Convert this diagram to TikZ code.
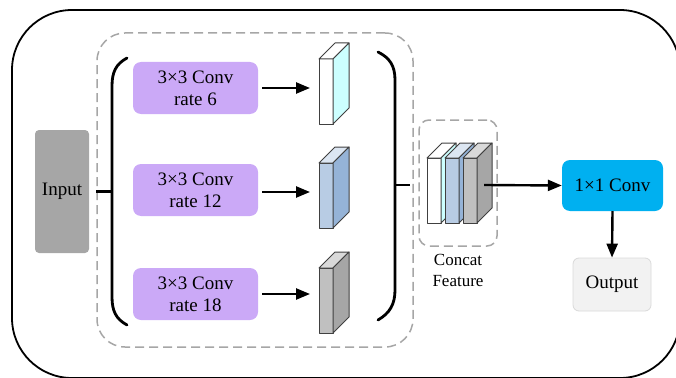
\documentclass[tikz,border=0pt]{standalone}
\usepackage{fontspec}
\setmainfont{Liberation Serif}
\newfontfamily\tnr{Liberation Serif}
\usetikzlibrary{arrows.meta}
\definecolor{convpurple}{HTML}{CBA9F7}
\definecolor{inputgray}{HTML}{A6A6A6}
\definecolor{convblue}{HTML}{00B0F0}
\definecolor{outfill}{HTML}{F2F2F2}
\definecolor{outdraw}{HTML}{D9D9D9}
\definecolor{dashgray}{HTML}{A6A6A6}
\definecolor{cyanside}{HTML}{CCFFFF}
\definecolor{bluefront}{HTML}{B8CCE4}
\definecolor{bluetop}{HTML}{DCE6F2}
\definecolor{blueside}{HTML}{95B3D7}
\definecolor{grayfront}{HTML}{C0C0C0}
\definecolor{graytop}{HTML}{D9D9D9}
\definecolor{grayside}{HTML}{A6A6A6}
\definecolor{edgecol}{HTML}{404040}
\newcommand\myslab[8]{%
  \filldraw[cubeedge, fill=#6] (#1,#2) rectangle ++(#3,#4);
  \filldraw[cubeedge, fill=#7] (#1,#2) -- ++(#5,-#5) -- ++(#3,0) -- ++(-#5,#5) -- cycle;
  \filldraw[cubeedge, fill=#8] (#1+#3,#2) -- ++(#5,-#5) -- ++(0,#4) -- ++(-#5,#5) -- cycle;
}
\begin{document}
\begin{tikzpicture}[x=1pt,y=-1pt,
  bigfont/.style={font=\tnr\fontsize{19}{22}\selectfont},
  cubeedge/.style={draw=edgecol, line width=1pt, line join=round},
  convbox/.style={draw=none, fill=convpurple, rounded corners=8pt, align=center,
    minimum width=125pt, minimum height=52pt, inner sep=0pt, bigfont},
  dashbox/.style={draw=dashgray, line width=1.5pt, dash pattern=on 9pt off 5pt,
    inner sep=0pt},
  arr/.style={line width=2.4pt, -{Triangle[length=14pt,width=11pt]}},
  conn/.style={line width=2.4pt},
  brk/.style={line width=2.8pt, line cap=round}]
\useasboundingbox (0,0) rectangle (676,377);
% outer frame
\begin{scope}
  \clip (0,0) rectangle (676,377);
  \draw[line width=1.8pt, rounded corners=60pt] (12,10) rectangle (680,378);
\end{scope}
% ASPP dashed region
\node[dashbox, rounded corners=28pt, minimum width=316pt, minimum height=314pt] (aspp) at (255,190) {};
% input
\node[fill=inputgray, rounded corners=4pt, minimum width=54pt, minimum height=123pt,
  inner sep=0pt, bigfont] (in) at (62,191.5) {Input};
% brackets
\draw[brk] (127,58) .. controls (116,64) and (112,72) .. (112,86) -- (112,297)
  .. controls (112,311) and (116,319) .. (127,325);
\draw[brk] (378,52) .. controls (390,58) and (395,66) .. (395,80) -- (395,290)
  .. controls (395,304) and (390,313) .. (378,320);
\coordinate (lb) at (112,192);
\coordinate (rb) at (395,185);
\coordinate (rbe) at (410,185);
\draw[conn] (aspp.west |- in) -- (lb |- in);
\draw[conn] (rb) -- (rbe);
% conv branches
\node[convbox] (r6) at (195.5,88) {3×3 Conv\\rate 6};
\node[convbox] (r12) at (195.5,190) {3×3 Conv\\rate 12};
\node[convbox] (r18) at (195.5,294) {3×3 Conv\\rate 18};
% feature cuboids
\myslab{319}{59}{14}{65}{16}{white}{white}{cyanside}
\myslab{319}{163}{14}{65}{16}{bluefront}{bluetop}{blueside}
\myslab{319}{268}{14}{65}{16}{grayfront}{graytop}{grayside}
\coordinate (f6) at (310,88);
\coordinate (f12) at (310,192);
\coordinate (f18) at (310,294);
\draw[arr] ([xshift=4pt]r6.east) -- (f6);
\draw[arr] ([xshift=4pt]r12.east |- f12) -- (f12);
\draw[arr] ([xshift=4pt]r18.east) -- (f18);
% concat
\node[dashbox, rounded corners=10pt, minimum width=78pt, minimum height=126pt] (cat) at (458,183) {};
\myslab{427}{158}{14}{65}{15}{white}{white}{cyanside}
\myslab{445}{158}{14}{65}{15}{bluefront}{bluetop}{blueside}
\myslab{463}{158}{14}{65}{15}{grayfront}{graytop}{grayside}
\node[align=center, font=\tnr\fontsize{17}{21}\selectfont] (catlab) at (458,270) {Concat\\Feature};
\coordinate (cf) at (484,185);
% 1x1 conv and output
\node[fill=convblue, rounded corners=8pt, minimum width=101pt, minimum height=51pt,
  inner sep=0pt, bigfont] (c11) at (612.5,185.5) {1×1 Conv};
\node[fill=outfill, draw=outdraw, line width=0.8pt, rounded corners=6pt, minimum width=78pt,
  minimum height=53pt, inner sep=0pt, bigfont] (out) at (612,284.5) {Output};
\draw[arr] (cf) -- (c11.west);
\draw[arr] (c11.south) -- (out.north);
\end{tikzpicture}
\end{document}
